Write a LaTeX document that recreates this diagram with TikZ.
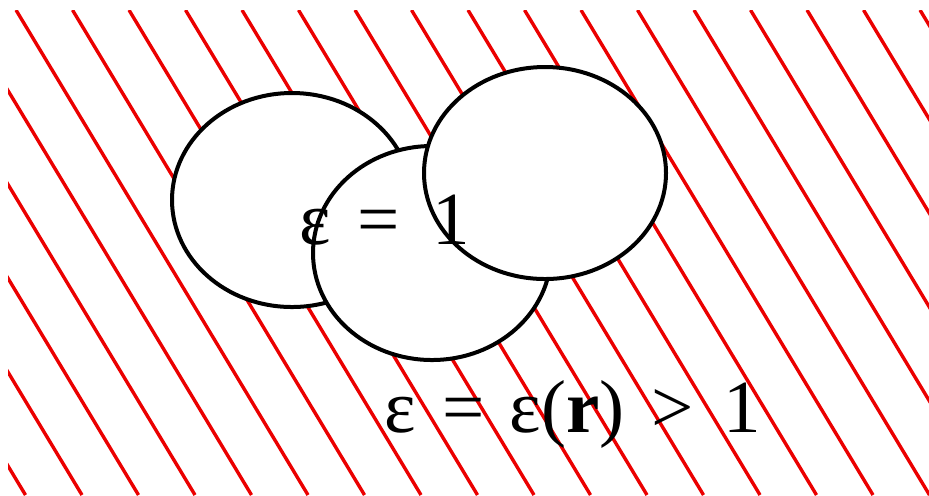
\documentclass[tikz,border=0pt]{standalone}
\usepackage{fontspec}
\setmainfont{Liberation Serif}
\usepackage{xcolor}
\usepackage{tikz}
\definecolor{rojohatch}{RGB}{235,0,0}
\newcommand{\gap}[1]{\hspace{#1pt}}

\begin{document}
\begin{tikzpicture}[
  x=0.5pt, y=-0.5pt,
  hatch/.style={draw=rojohatch, line width=1.7pt},
  blob/.style={draw=black, fill=white, line width=2pt},
  eqlabel/.style={inner sep=0pt, anchor=base west,
                  font=\fontsize{37.5}{44}\selectfont}
]
\useasboundingbox (0,0) rectangle (929,495);

% Region rayada
\begin{scope}
  \clip (8,10) rectangle (929,495);
  \foreach \k in {-5,...,16}
    \draw[hatch] ({16+56.5*\k},10) -- ++(292,485);
\end{scope}

% Burbujas con epsilon = 1
\draw[blob] (292,200) ellipse [x radius=120, y radius=107];
\draw[blob] (432,253) ellipse [x radius=119, y radius=107];
\draw[blob] (545,173) ellipse [x radius=121, y radius=106];

% Etiquetas
\node[eqlabel] (dentro) at (299,244) {ε\gap{13.4}=\gap{16.4}1};
\node[eqlabel] (fuera) at (384,432)
  {ε\gap{13.4}=\gap{12.4}ε(\textbf{r})\gap{13.4}>\gap{14.9}1};
\end{tikzpicture}
\end{document}
